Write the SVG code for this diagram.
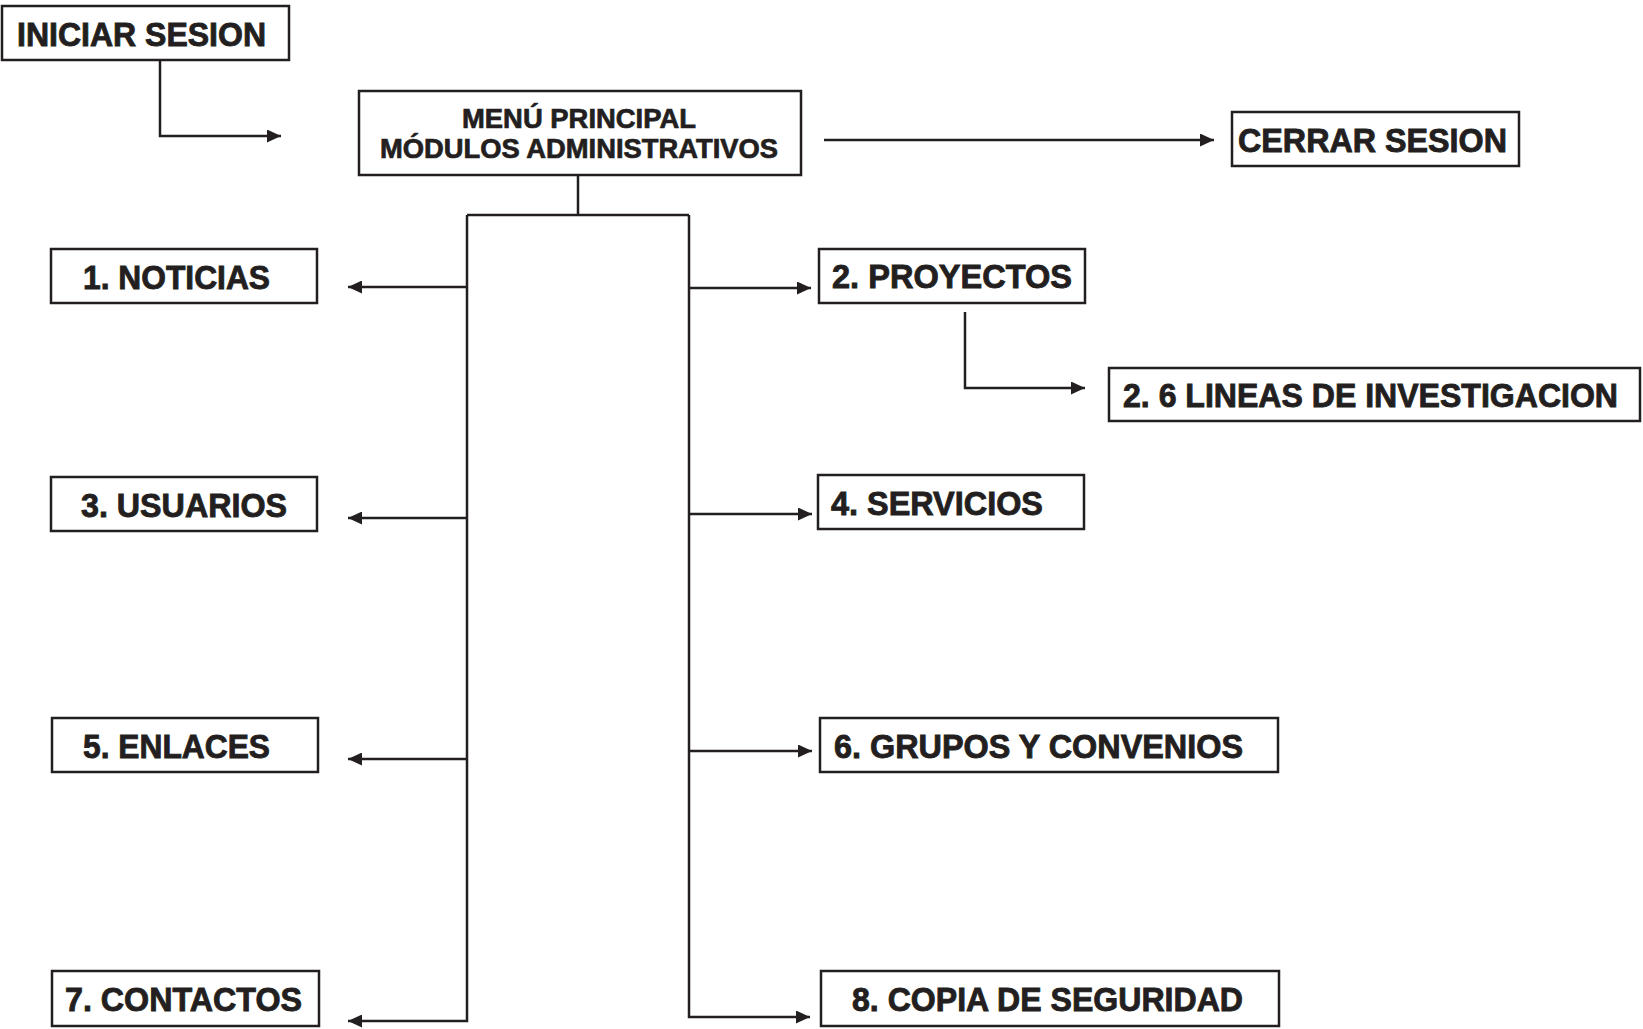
<svg xmlns="http://www.w3.org/2000/svg" width="1643" height="1029" viewBox="0 0 1643 1029">
<style>
.box{fill:#fff;stroke:#231f20;stroke-width:2.5}
.t{font-family:"Liberation Sans",Arial,sans-serif;font-weight:bold;font-size:34px;fill:#231f20;stroke:#231f20;stroke-width:0.9}
.tm{font-family:"Liberation Sans",Arial,sans-serif;font-weight:bold;font-size:27px;fill:#231f20;stroke:#231f20;stroke-width:0.7}
.c{fill:none;stroke:#231f20;stroke-width:2.5}
.a{marker-end:url(#arr)}
</style>
<defs>
<marker id="arr" markerUnits="userSpaceOnUse" markerWidth="14" markerHeight="13" refX="14" refY="6.5" orient="auto">
<path d="M0,0 L14,6.5 L0,13 z" fill="#231f20"/>
</marker>
</defs>
<rect width="1643" height="1029" fill="#fff"/>
<g id="connectors">
<path class="c a" d="M160,60 V136 H281"/>
<path class="c a" d="M824,140 H1214"/>
<path class="c" d="M578,175 V215"/>
<path class="c" d="M467,215 H689"/>
<path class="c a" d="M467,215 V1021 H348"/>
<path class="c a" d="M689,215 V1017 H810"/>
<path class="c a" d="M467,287 H348"/>
<path class="c a" d="M467,518 H348"/>
<path class="c a" d="M467,759 H348"/>
<path class="c a" d="M689,288 H811"/>
<path class="c a" d="M689,514 H812"/>
<path class="c a" d="M689,751 H812"/>
<path class="c a" d="M965,312 V388 H1085"/>
</g>
<g id="iniciar">
<rect class="box" x="2" y="6" width="287" height="54"/>
<text class="t" x="17" y="46" textLength="249" lengthAdjust="spacingAndGlyphs">INICIAR SESION</text>
</g>
<g id="menu">
<rect class="box" x="359" y="91" width="442" height="84"/>
<text class="tm" x="462" y="128" textLength="234" lengthAdjust="spacingAndGlyphs">MENÚ PRINCIPAL</text>
<text class="tm" x="380" y="158" textLength="398" lengthAdjust="spacingAndGlyphs">MÓDULOS ADMINISTRATIVOS</text>
</g>
<g id="cerrar">
<rect class="box" x="1232" y="112" width="287" height="54"/>
<text class="t" x="1238" y="152" textLength="269" lengthAdjust="spacingAndGlyphs">CERRAR SESION</text>
</g>
<g id="noticias">
<rect class="box" x="51" y="249" width="266" height="54"/>
<text class="t" x="83" y="289" textLength="187" lengthAdjust="spacingAndGlyphs">1. NOTICIAS</text>
</g>
<g id="proyectos">
<rect class="box" x="819" y="249" width="266" height="54"/>
<text class="t" x="832" y="288" textLength="240" lengthAdjust="spacingAndGlyphs">2. PROYECTOS</text>
</g>
<g id="lineas">
<rect class="box" x="1109" y="368" width="531" height="53"/>
<text class="t" x="1123" y="407" textLength="495" lengthAdjust="spacingAndGlyphs">2. 6 LINEAS DE INVESTIGACION</text>
</g>
<g id="usuarios">
<rect class="box" x="51" y="477" width="266" height="54"/>
<text class="t" x="81" y="517" textLength="206" lengthAdjust="spacingAndGlyphs">3. USUARIOS</text>
</g>
<g id="servicios">
<rect class="box" x="818" y="475" width="266" height="54"/>
<text class="t" x="831" y="515" textLength="212" lengthAdjust="spacingAndGlyphs">4. SERVICIOS</text>
</g>
<g id="enlaces">
<rect class="box" x="52" y="718" width="266" height="54"/>
<text class="t" x="83" y="758" textLength="187" lengthAdjust="spacingAndGlyphs">5. ENLACES</text>
</g>
<g id="grupos">
<rect class="box" x="820" y="718" width="458" height="54"/>
<text class="t" x="834" y="758" textLength="409" lengthAdjust="spacingAndGlyphs">6. GRUPOS Y CONVENIOS</text>
</g>
<g id="contactos">
<rect class="box" x="52" y="971" width="267" height="55"/>
<text class="t" x="65" y="1011" textLength="237" lengthAdjust="spacingAndGlyphs">7. CONTACTOS</text>
</g>
<g id="copia">
<rect class="box" x="821" y="971" width="458" height="55"/>
<text class="t" x="852" y="1011" textLength="391" lengthAdjust="spacingAndGlyphs">8. COPIA DE SEGURIDAD</text>
</g>
</svg>
